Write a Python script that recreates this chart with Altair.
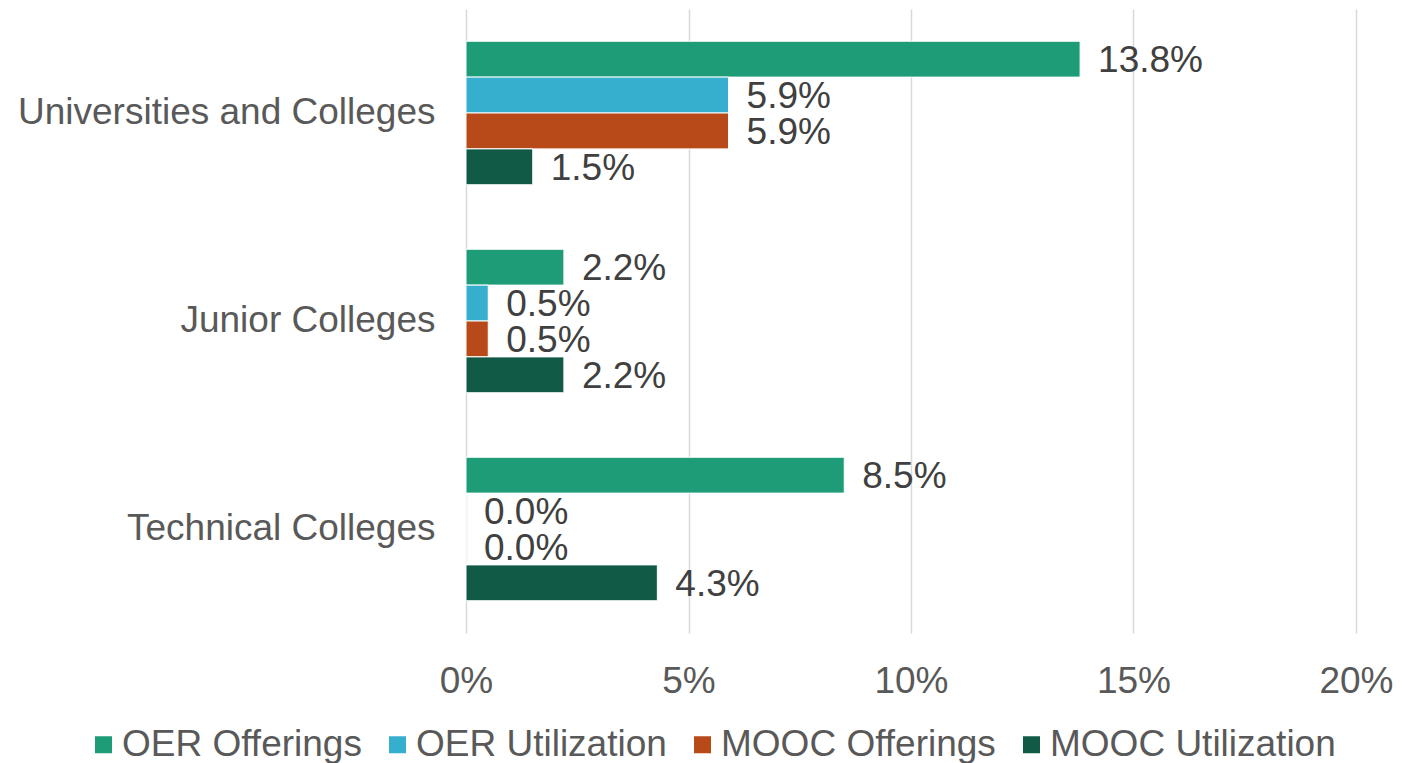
import altair as alt
import pandas as pd

categories = ["Universities and Colleges", "Junior Colleges", "Technical Colleges"]
series = ["OER Offerings", "OER Utilization", "MOOC Offerings", "MOOC Utilization"]
values = {
    "OER Offerings": [0.138, 0.022, 0.085],
    "OER Utilization": [0.059, 0.005, 0.0],
    "MOOC Offerings": [0.059, 0.005, 0.0],
    "MOOC Utilization": [0.015, 0.022, 0.043],
}
colors = ["#1E9C78", "#36AFCF", "#B74A18", "#115A45"]
x_ticks = [0, 0.05, 0.10, 0.15, 0.20]

rows = []
for s in series:
    for c, v in zip(categories, values[s]):
        rows.append({"category": c, "series": s, "value": v})
df = pd.DataFrame(rows)

FONT = "Liberation Sans"
FS = 37

y_enc = alt.Y("category:N", sort=categories,
              scale=alt.Scale(paddingInner=0.31, paddingOuter=0.155),
              axis=alt.Axis(title=None, labelFontSize=FS, labelColor="#595959",
                            labelPadding=31, ticks=False, domain=False, labelFont=FONT,
                            labelLimit=600))
yoff = alt.YOffset("series:N", sort=series, scale=alt.Scale(paddingInner=0, paddingOuter=0))

bars = alt.Chart(df).mark_bar(stroke="white", strokeWidth=1).encode(
    x=alt.X("value:Q", scale=alt.Scale(domain=[0, 0.2]),
            axis=alt.Axis(title=None, format=".0%", values=x_ticks, labelFontSize=FS,
                          labelColor="#595959", labelPadding=30, ticks=False, domain=False,
                          labelFlush=False, labelAlign="center",
                          grid=True, gridColor="#D9D9D9", gridWidth=1.5, labelFont=FONT)),
    y=y_enc,
    yOffset=yoff,
    color=alt.Color("series:N", sort=series,
                    scale=alt.Scale(domain=series, range=colors),
                    legend=alt.Legend(title=None, orient="none", direction="horizontal",
                                      legendX=-383, legendY=717, labelFontSize=FS,
                                      labelColor="#595959", labelFont=FONT,
                                      symbolType="square", symbolSize=289,
                                      symbolStrokeWidth=0, labelOffset=0, symbolOffset=2,
                                      columnPadding=15, labelLimit=500)),
)

labels = alt.Chart(df).mark_text(align="left", baseline="middle", dx=18, dy=2,
                                 fontSize=FS, color="#404040", font=FONT).encode(
    x="value:Q",
    y=alt.Y("category:N", sort=categories),
    yOffset=yoff,
    text=alt.Text("value:Q", format=".1%"),
)

chart = (bars + labels).properties(
    width=890, height=624,
    autosize=alt.AutoSizeParams(type="none"),
    padding={"left": 458, "top": 1, "right": 38, "bottom": 130},
).configure_view(stroke=None)

chart.save("out.html", embed_options={"renderer": "svg", "actions": False})
